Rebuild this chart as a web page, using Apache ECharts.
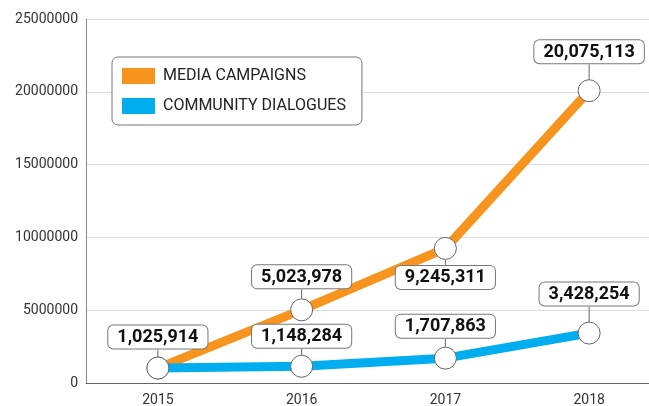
<!DOCTYPE html>
<html>
<head>
<meta charset="utf-8">
<script src="https://cdn.jsdelivr.net/npm/echarts@6/dist/echarts.min.js"></script>
<style>
  html, body { margin: 0; padding: 0; background: #fff; }
  #chart { width: 649px; height: 406px; }
</style>
</head>
<body>
<div id="chart"></div>
<script>
// data
const years = ["2015", "2016", "2017", "2018"];
const mediaCampaigns = [1025914, 5023978, 9245311, 20075113];
const communityDialogues = [1025914, 1148284, 1707863, 3428254];
const yTicks = [0, 5000000, 10000000, 15000000, 20000000, 25000000];

// label placement (px shift from the marker), null = no label
const mediaLabelShift = [null, -10, 6, -16];
const communityLabelShift = [-8, -7, -9, -16];
const mediaLabelBelow = [false, false, true, false];

const ORANGE = "#F7941D";
const BLUE = "#00AEEF";

const chart = echarts.init(document.getElementById("chart"));

const boxLabel = {
  show: true,
  position: "top",
  distance: 0,
  formatter: (p) => p.value.toLocaleString("en-US"),
  backgroundColor: "#fff",
  borderColor: "#777",
  borderWidth: 1,
  borderRadius: 5,
  padding: [3, 9, 2, 9],
  fontFamily: "Roboto",
  fontSize: 18,
  fontWeight: "bold",
  color: "#111",
};

function mediaPoints() {
  return mediaCampaigns.map((v, i) => {
    if (mediaLabelShift[i] === null) return { value: v, label: { show: false } };
    if (mediaLabelBelow[i]) return { value: v, label: { position: "bottom" } };
    return v;
  });
}

const option = {
  animation: false,
  grid: { left: 86, width: 575, top: 19, bottom: 23, outerBoundsMode: "none", containLabel: false },
  legend: {
    orient: "vertical",
    left: 112,
    top: 57,
    padding: [11, 16, 11, 10],
    itemWidth: 33,
    itemHeight: 16,
    itemGap: 14,
    backgroundColor: "#fff",
    borderColor: "#777",
    borderWidth: 1,
    borderRadius: 6,
    textStyle: { fontFamily: "Roboto", fontSize: 16, color: "#222", padding: [0, 0, 0, 3] },
    data: [
      { name: "MEDIA CAMPAIGNS", icon: "rect", itemStyle: { color: ORANGE, borderWidth: 0 } },
      { name: "COMMUNITY DIALOGUES", icon: "rect", itemStyle: { color: BLUE, borderWidth: 0 } },
    ],
  },
  xAxis: {
    type: "category",
    data: years,
    boundaryGap: true,
    axisLine: { lineStyle: { color: "#666", width: 1 } },
    axisTick: { inside: true, length: 7, alignWithLabel: true, lineStyle: { color: "#888" } },
    axisLabel: { fontFamily: "Roboto", fontSize: 14, color: "#333", margin: 10 },
  },
  yAxis: {
    type: "value",
    min: yTicks[0],
    max: yTicks[yTicks.length - 1],
    interval: yTicks[1] - yTicks[0],
    axisLine: { show: true, lineStyle: { color: "#888" } },
    axisTick: { show: false },
    splitLine: { lineStyle: { color: "#ddd", width: 1 } },
    axisLabel: { fontFamily: "Roboto", fontSize: 14, color: "#333", margin: 8, formatter: (v) => String(v) },
  },
  series: [
    {
      name: "MEDIA CAMPAIGNS",
      type: "line",
      data: mediaPoints(),
      color: ORANGE,
      lineStyle: { color: ORANGE, width: 9 },
      symbol: "circle",
      symbolSize: 22,
      itemStyle: { color: "#fff", borderColor: "#666", borderWidth: 1 },
      label: boxLabel,
      labelLine: { show: true, lineStyle: { color: "#666", width: 1 } },
      labelLayout: (p) => ({ dy: mediaLabelShift[p.dataIndex] || 0 }),
      z: 2,
    },
    {
      name: "COMMUNITY DIALOGUES",
      type: "line",
      data: communityDialogues,
      color: BLUE,
      lineStyle: { color: BLUE, width: 9 },
      symbol: "circle",
      symbolSize: 22,
      itemStyle: { color: "#fff", borderColor: "#666", borderWidth: 1 },
      label: boxLabel,
      labelLine: { show: true, lineStyle: { color: "#666", width: 1 } },
      labelLayout: (p) => ({ dy: communityLabelShift[p.dataIndex] }),
      z: 3,
    },
  ],
};

chart.setOption(option);
</script>
</body>
</html>
